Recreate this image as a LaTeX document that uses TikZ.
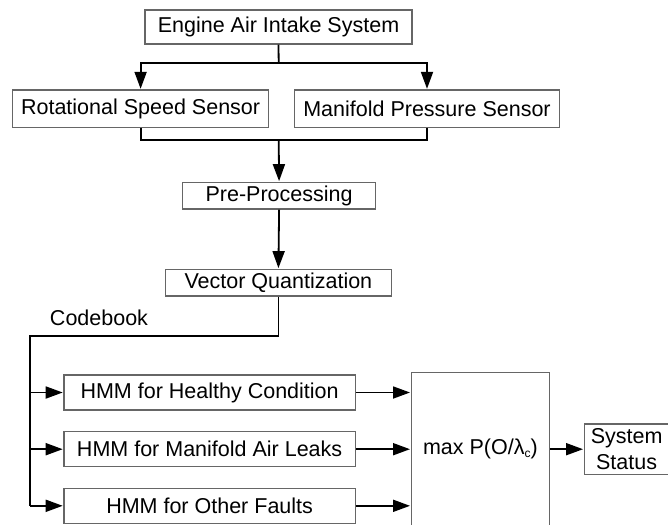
\documentclass[tikz,border=0pt]{standalone}
\usepackage{fontspec}
\setmainfont{Liberation Sans}
\usetikzlibrary{arrows.meta}

\begin{document}
\begin{tikzpicture}[x=1pt, y=-1pt,
  every node/.style={font=\fontsize{21.5}{26}\selectfont, inner sep=0pt},
  blk/.style={draw=black!60, line width=1.2pt, rectangle, fill=white},
  flow/.style={draw=black, line width=1.8pt},
  arr/.style={flow, -{Triangle[length=17pt, width=12pt]}, shorten >=0.6pt}
]
  \useasboundingbox (0,0) rectangle (668,524);
  \clip (0,0) rectangle (668,524);

  % top of the chain
  \node[blk, minimum width=267pt, minimum height=34pt]   (eng) at (278.5,27)    {Engine Air Intake System};
  \node[blk, minimum width=255.6pt, minimum height=37.3pt] (rot) at (140.6,108.7) {Rotational Speed Sensor};
  \node[blk, minimum width=265.4pt, minimum height=37.3pt] (man) at (427.0,108.7) {Manifold Pressure Sensor};
  \node[blk, minimum width=193.4pt, minimum height=26.7pt] (pre) at (279.1,195.7) {Pre-Processing};
  \node[blk, minimum width=225.4pt, minimum height=26.7pt] (vq)  at (278.4,282.7) {Vector Quantization};

  % model bank
  \node[blk, minimum width=291.4pt, minimum height=35pt] (hmmA) at (209.6,392.5) {HMM for Healthy Condition};
  \node[blk, minimum width=291.4pt, minimum height=35pt] (hmmB) at (209.6,449.2) {HMM for Manifold Air Leaks};
  \node[blk, minimum width=291.4pt, minimum height=35pt] (hmmC) at (209.6,505.8) {HMM for Other Faults};

  \node[blk, minimum width=138.4pt, minimum height=153pt] (dec) at (480.4,449.2)
    {max P(O/λ{\fontsize{12}{12}\selectfont\raisebox{-3pt}{c}})};
  \node[blk, minimum width=84.7pt, minimum height=50.3pt, align=center] (sys) at (626.6,449.2)
    {System\\Status};

  \node (cbl) at (99,317.7) {Codebook};

  % junction points
  \coordinate (split) at (278.7,63.3);
  \coordinate (merge) at (278.7,140);
  \coordinate (cb)    at (30.3,336);

  % sensor split and merge
  \draw[flow] (eng.south) -- (split);
  \draw[arr] (split) -| (rot.north);
  \draw[arr] (split) -| (man.north);
  \draw[flow] (rot.south) |- (merge);
  \draw[flow] (man.south) |- (merge);
  \draw[arr] (merge) -- (pre.north);
  \draw[arr] (pre.south) -- (vq.north);

  % codebook feed
  \draw[flow] (vq.south) |- (cb) -- (cb |- hmmC.west);
  \draw[arr] (cb |- hmmA.west) -- (hmmA.west);
  \draw[arr] (cb |- hmmB.west) -- (hmmB.west);
  \draw[arr] (cb |- hmmC.west) -- (hmmC.west);

  % likelihoods to decision
  \draw[arr] (hmmA.east) -- (hmmA.east -| dec.west);
  \draw[arr] (hmmB.east) -- (hmmB.east -| dec.west);
  \draw[arr] (hmmC.east) -- (hmmC.east -| dec.west);
  \draw[arr] (dec.east) -- (sys.west);
\end{tikzpicture}
\end{document}
